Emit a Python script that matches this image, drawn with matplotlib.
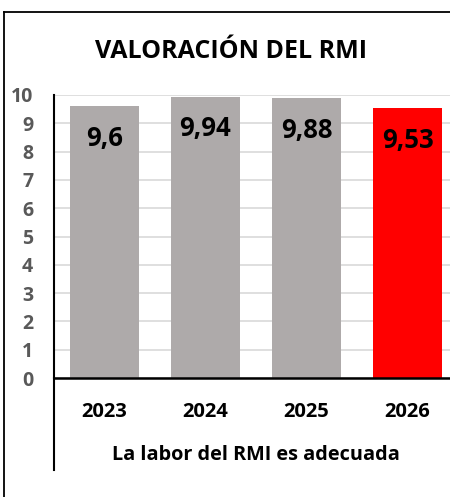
import matplotlib
matplotlib.use("Agg")
import matplotlib.pyplot as plt
from matplotlib.lines import Line2D

categories = ["2023", "2024", "2025", "2026"]
values = [9.6, 9.94, 9.88, 9.53]
labels = ["9,6", "9,94", "9,88", "9,53"]
colors = ["#aeaaaa", "#aeaaaa", "#aeaaaa", "#ff0000"]
yticks = list(range(0, 11))
title = "VALORACIÓN DEL RMI"
group_label = "La labor del RMI es adecuada"

plt.rcParams['font.family'] = ['Open Sans', 'DejaVu Sans']

W, H = 450, 497
fig = plt.figure(figsize=(W / 100, H / 100), dpi=100)
fig.patch.set_facecolor("white")

x0, x1 = 54, 458
y_top, y_bot = 95, 378
ax = fig.add_axes([x0 / W, 1 - y_bot / H, (x1 - x0) / W, (y_bot - y_top) / H])

xs = list(range(len(categories)))
ax.bar(xs, values, width=0.69, color=colors, zorder=2)
for x, v, lab in zip(xs, values, labels):
    ax.annotate(lab, (x, v), xytext=(0, -32), textcoords="offset pixels",
                ha="center", va="center", fontsize=18.5, fontweight="bold",
                color="black", zorder=3)

ax.set_xlim(-0.5, len(categories) - 0.5)
ax.set_ylim(0, 10)
ax.set_yticks(yticks)
ax.set_yticklabels([str(t) for t in yticks], fontsize=14, fontweight="bold", color="#595959")
ax.tick_params(axis="y", length=0, pad=15)
ax.set_xticks(xs)
ax.set_xticklabels(categories, fontsize=14.5, fontweight="bold", color="black")
ax.tick_params(axis="x", length=0, pad=17)
ax.grid(axis="y", color="#d9d9d9", linewidth=1.2, zorder=0)
ax.set_axisbelow(True)
for s in ["top", "right"]:
    ax.spines[s].set_visible(False)
ax.spines["left"].set_linewidth(1.5)
ax.spines["bottom"].set_linewidth(1.8)
ax.spines["left"].set_color("black")
ax.spines["bottom"].set_color("black")

# extension of the vertical axis line below the categories
ax.add_line(Line2D([0, 0], [0, -(470 - y_bot) / (y_bot - y_top)], transform=ax.transAxes,
                   color="black", linewidth=1.5, clip_on=False))
ax.text(0.5, -(455 - y_bot) / (y_bot - y_top), group_label, transform=ax.transAxes,
        ha="center", va="center", fontsize=14.3, fontweight="bold", color="black")

# outer border
fig.add_artist(Line2D([4 / W, 4 / W], [0, 1 - 12 / H], color="black", linewidth=1.3))
fig.add_artist(Line2D([4 / W, 1], [1 - 12 / H, 1 - 12 / H], color="black", linewidth=1.3))

fig.text(231 / W, 1 - 51 / H, title, ha="center", va="center", fontsize=18,
         fontweight="bold", color="black")

fig.savefig("out.png", dpi=100, facecolor="white")
